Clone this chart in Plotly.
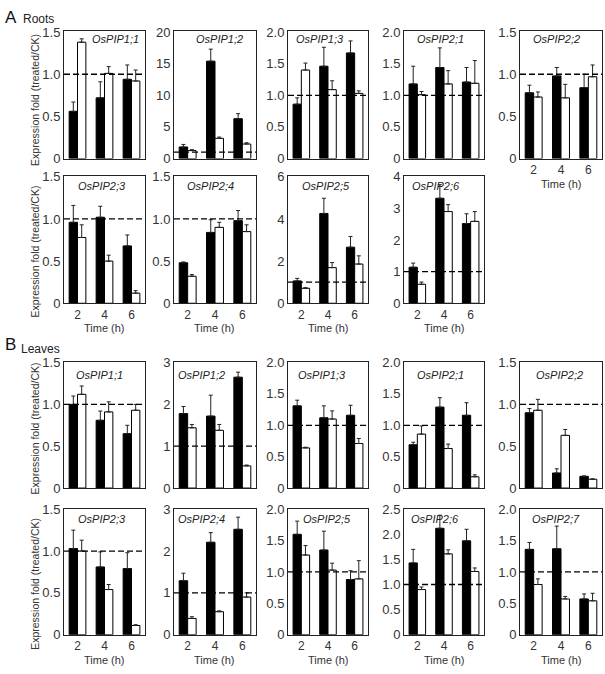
import plotly.graph_objects as go

W, H = 605, 674
times = [2, 4, 6]

# ---------------- Roots ----------------
roots_genes = ["OsPIP1;1", "OsPIP1;2", "OsPIP1;3", "OsPIP2;1", "OsPIP2;2",
               "OsPIP2;3", "OsPIP2;4", "OsPIP2;5", "OsPIP2;6"]
roots_black = [[0.56, 0.72, 0.94], [1.83, 15.4, 6.3], [0.86, 1.46, 1.67],
               [1.18, 1.44, 1.21], [0.78, 0.98, 0.84], [0.96, 1.02, 0.68],
               [0.48, 0.84, 0.98], [1.06, 4.26, 2.66], [1.14, 3.32, 2.52]]
roots_black_err = [[0.11, 0.19, 0.17], [0.4, 1.9, 0.8], [0.10, 0.30, 0.19],
                   [0.28, 0.31, 0.23], [0.09, 0.10, 0.16], [0.20, 0.13, 0.13],
                   [0.01, 0.15, 0.12], [0.12, 0.72, 0.51], [0.13, 0.43, 0.31]]
roots_white = [[1.38, 1.01, 0.92], [1.26, 3.2, 2.3], [1.40, 1.09, 1.03],
               [1.01, 1.18, 1.19], [0.73, 0.72, 0.97], [0.78, 0.50, 0.12],
               [0.32, 0.90, 0.85], [0.71, 1.69, 1.86], [0.60, 2.90, 2.59]]
roots_white_err = [[0.04, 0.08, 0.13], [0.15, 0.2, 0.2], [0.11, 0.14, 0.04],
                   [0.05, 0.21, 0.36], [0.06, 0.16, 0.14], [0.15, 0.07, 0.03],
                   [0.02, 0.06, 0.08], [0.03, 0.24, 0.39], [0.07, 0.22, 0.31]]
roots_ymax = [1.5, 20, 2.0, 2.0, 1.5, 1.5, 1.5, 6, 4]
roots_ystep = [0.5, 5, 0.5, 0.5, 0.5, 0.5, 0.5, 2, 1]

# ---------------- Leaves ----------------
leaves_genes = ["OsPIP1;1", "OsPIP1;2", "OsPIP1;3", "OsPIP2;1", "OsPIP2;2",
                "OsPIP2;3", "OsPIP2;4", "OsPIP2;5", "OsPIP2;6", "OsPIP2;7"]
leaves_black = [[1.00, 0.81, 0.65], [1.78, 1.72, 2.65], [1.31, 1.12, 1.16],
                [0.69, 1.29, 1.16], [0.90, 0.18, 0.14], [1.03, 0.81, 0.79],
                [1.29, 2.21, 2.52], [1.60, 1.35, 0.88], [1.43, 2.12, 1.87],
                [1.36, 1.37, 0.57]]
leaves_black_err = [[0.10, 0.11, 0.10], [0.17, 0.50, 0.12], [0.09, 0.19, 0.16],
                    [0.04, 0.15, 0.20], [0.05, 0.05, 0.005], [0.22, 0.18, 0.19],
                    [0.18, 0.23, 0.29], [0.21, 0.30, 0.14], [0.27, 0.26, 0.23],
                    [0.11, 0.36, 0.08]]
leaves_white = [[1.12, 0.91, 0.93], [1.44, 1.38, 0.53], [0.64, 1.10, 0.71],
                [0.86, 0.63, 0.18], [0.93, 0.63, 0.105], [1.00, 0.54, 0.11],
                [0.39, 0.55, 0.90], [1.27, 1.03, 0.89], [0.90, 1.61, 1.26],
                [0.80, 0.57, 0.54]]
leaves_white_err = [[0.10, 0.12, 0.07], [0.08, 0.14, 0.02], [0.01, 0.13, 0.08],
                    [0.13, 0.07, 0.03], [0.13, 0.07, 0.005], [0.13, 0.06, 0.01],
                    [0.04, 0.02, 0.10], [0.15, 0.11, 0.29], [0.05, 0.08, 0.07],
                    [0.09, 0.04, 0.12]]
leaves_ymax = [1.5, 3, 2.0, 2.0, 1.5, 1.5, 3, 2.0, 2.5, 2.0]
leaves_ystep = [0.5, 1, 0.5, 0.5, 0.5, 0.5, 1, 0.5, 0.5, 0.5]

# ---------------- Layout geometry (pixels) ----------------
cols_px = [(64, 145), (174, 256), (288, 368), (404, 484), (520, 602)]
rows_px = [(25, 155), (173, 303), (363, 492), (513, 642)]
title_frac_roots = [0.63, 0.56, 0.40, 0.46, 0.45, 0.47, 0.44, 0.47, 0.40]
title_frac_leaves = [0.44, 0.33, 0.43, 0.45, 0.48, 0.47, 0.33, 0.49, 0.39, 0.44]
title_drop = [8, 10, 13, 10]

panels = []
for i, g in enumerate(roots_genes):
    r = 0 if i < 5 else 1
    c = i if i < 5 else i - 5
    showx = (r == 1) or (c == 4)
    panels.append((r, c, g, roots_ymax[i], roots_ystep[i], roots_black[i], roots_black_err[i],
                   roots_white[i], roots_white_err[i], showx, title_frac_roots[i]))
for i, g in enumerate(leaves_genes):
    r = 2 if i < 5 else 3
    c = i if i < 5 else i - 5
    showx = (r == 3)
    panels.append((r, c, g, leaves_ymax[i], leaves_ystep[i], leaves_black[i], leaves_black_err[i],
                   leaves_white[i], leaves_white_err[i], showx, title_frac_leaves[i]))

FONT = "Liberation Sans, Arial, sans-serif"
fig = go.Figure()
annotations = []
shapes = []
layout = {}

for k, (r, c, g, ymax, ystep, B, Be, Wv, We, showx, tfrac) in enumerate(panels):
    n = k + 1
    xa = "x" if n == 1 else f"x{n}"
    ya = "y" if n == 1 else f"y{n}"
    fig.add_trace(go.Bar(
        x=times, y=B, xaxis=xa, yaxis=ya, showlegend=False,
        marker=dict(color="black", line=dict(color="black", width=1)),
        error_y=dict(type="data", array=Be, arrayminus=[0] * 3, symmetric=False,
                     color="#222", thickness=1, width=2)))
    fig.add_trace(go.Bar(
        x=times, y=Wv, xaxis=xa, yaxis=ya, showlegend=False,
        marker=dict(color="white", line=dict(color="black", width=1)),
        error_y=dict(type="data", array=We, arrayminus=[0] * 3, symmetric=False,
                     color="#222", thickness=1, width=2)))

    x0, x1 = cols_px[c]
    y0, y1 = rows_px[r]
    nt = int(round(ymax / ystep))
    tv = [j * ystep for j in range(nt + 1)]
    tt = ["0" if v == 0 else (f"{v:.1f}" if ystep < 1 else f"{v:g}") for v in tv]
    layout["xaxis" if n == 1 else f"xaxis{n}"] = dict(
        domain=[x0 / W, x1 / W], anchor=ya, range=[1, 7],
        tickvals=times, ticktext=[str(t) for t in times], showticklabels=showx,
        ticks="", showgrid=False, zeroline=False, showline=True, mirror=True,
        linecolor="#222", linewidth=1,
        tickfont=dict(family=FONT, size=12, color="#333"))
    layout["yaxis" if n == 1 else f"yaxis{n}"] = dict(
        domain=[1 - y1 / H, 1 - y0 / H], anchor=xa, range=[0, ymax * 1.005],
        tickvals=tv, ticktext=tt, ticks="", showgrid=False, zeroline=False,
        showline=True, mirror=True, linecolor="#222", linewidth=1,
        tickfont=dict(family=FONT, size=13, color="#333"))

    shapes.append(dict(type="line", xref=f"{xa} domain", x0=0, x1=1,
                       yref=ya, y0=1, y1=1,
                       line=dict(color="black", width=1.3, dash="6px,3px")))
    annotations.append(dict(xref=f"{xa} domain", yref=f"{ya} domain", x=tfrac, y=1,
                            xanchor="center", yanchor="middle", yshift=-title_drop[r],
                            showarrow=False, text=f"<i>{g}</i>",
                            font=dict(family=FONT, size=11, color="#222")))
    if showx:
        annotations.append(dict(xref=f"{xa} domain", yref=f"{ya} domain", x=0.5, y=0,
                                xanchor="center", yanchor="middle", yshift=-25,
                                showarrow=False, text="Time (h)",
                                font=dict(family=FONT, size=11, color="#333")))

# y-axis titles
for cy in [95, 250, 431, 590]:
    annotations.append(dict(xref="paper", yref="paper", x=35 / W, y=1 - cy / H,
                            xanchor="center", yanchor="middle",
                            textangle=-90, showarrow=False,
                            text="Expression fold (treated/CK)",
                            font=dict(family=FONT, size=10.5, color="#333")))

# section labels
annotations += [
    dict(xref="paper", yref="paper", x=3 / W, y=1 - 11 / H, xanchor="left", yanchor="middle",
         showarrow=False, text="A", font=dict(family=FONT, size=17, color="#111")),
    dict(xref="paper", yref="paper", x=21 / W, y=1 - 12 / H, xanchor="left", yanchor="middle",
         showarrow=False, text="Roots", font=dict(family=FONT, size=12, color="#222")),
    dict(xref="paper", yref="paper", x=3 / W, y=1 - 345 / H, xanchor="left", yanchor="middle",
         showarrow=False, text="B", font=dict(family=FONT, size=17, color="#111")),
    dict(xref="paper", yref="paper", x=19 / W, y=1 - 350 / H, xanchor="left", yanchor="middle",
         showarrow=False, text="Leaves", font=dict(family=FONT, size=12, color="#222")),
]

fig.update_layout(
    width=W, height=H, margin=dict(l=0, r=0, t=0, b=0),
    paper_bgcolor="white", plot_bgcolor="white",
    barmode="group", bargap=0.38, bargroupgap=0,
    annotations=annotations, shapes=shapes,
    font=dict(family=FONT), **layout)

fig.write_html("out.html", config={"displayModeBar": False},
               post_script="document.body.style.margin='0';document.body.style.overflow='hidden';")
